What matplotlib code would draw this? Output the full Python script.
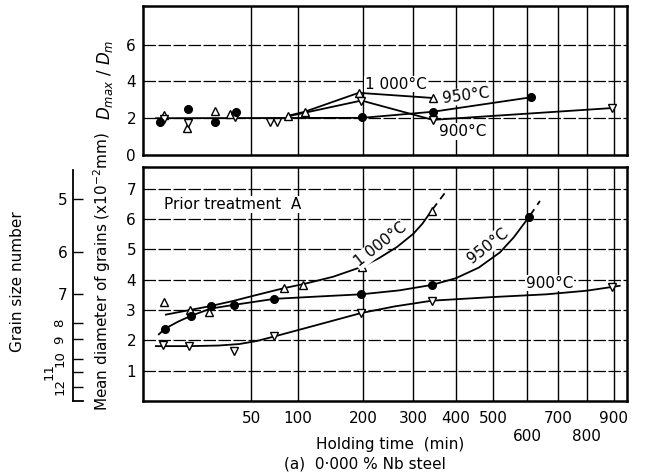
import numpy as np
import matplotlib
matplotlib.use('Agg')
import matplotlib.pyplot as plt

# holding time ticks (min), x axis is a square-root scale
xticks = [50, 100, 200, 300, 400, 500, 600, 700, 800, 900]
xlabels = ['50', '100', '200', '300', '400', '500', '\n600', '700', '\n800', '900']

# ---- top panel: Dmax / Dm ----
top_up_t = [2.45, 9.0, 23, 32.8, 88, 109, 192, 344]
top_up_y = [2.17, 1.45, 2.4, 2.22, 2.13, 2.35, 3.38, 3.1]
top_down_t = [2.45, 9.4, 36.5, 68, 76, 197, 344, 891]
top_down_y = [1.95, 1.75, 2.04, 1.8, 1.8, 2.96, 1.91, 2.55]
top_dot_t = [1.67, 9.6, 22.6, 37.3, 198, 344, 614]
top_dot_y = [1.82, 2.5, 1.82, 2.32, 2.04, 2.35, 3.14]

top_1000_t = [88, 109, 192, 344]
top_1000_y = [2.13, 2.35, 3.38, 3.1]
top_950_t = [1.1, 198, 344, 614]
top_950_y = [2.0, 2.02, 2.35, 3.14]
top_900_t = [88, 197, 344, 891]
top_900_y = [2.1, 2.96, 1.91, 2.55]

# ---- bottom panel: mean diameter (x10^-2 mm) ----
up_t = [2.45, 10.2, 19.5, 83.2, 107, 198, 341]
up_y = [3.28, 3.0, 2.92, 3.72, 3.83, 4.43, 6.28]
dot_t = [2.65, 10.6, 20.4, 35.4, 72.8, 196.5, 342, 607]
dot_y = [2.39, 2.81, 3.13, 3.17, 3.37, 3.52, 3.83, 6.08]
down_t = [2.25, 9.9, 35.4, 72.8, 195.6, 342, 891]
down_y = [1.84, 1.81, 1.65, 2.13, 2.9, 3.31, 3.76]

# hand drawn curves
c1000_t = [2.8, 10, 20, 35, 55, 83, 108, 150, 198, 230, 265, 300, 320, 341]
c1000_y = [2.85, 3.0, 3.13, 3.3, 3.5, 3.72, 3.86, 4.1, 4.43, 4.72, 5.08, 5.52, 5.85, 6.28]
e1000_t = [341, 372]
e1000_y = [6.28, 6.85]
c950_t = [1.5, 2.65, 6, 10.6, 20.4, 35.4, 72.8, 130, 196.5, 270, 342, 400, 460, 519, 560, 607]
c950_y = [2.2, 2.39, 2.62, 2.81, 3.05, 3.17, 3.37, 3.45, 3.52, 3.65, 3.83, 4.05, 4.4,
          4.9, 5.4, 6.08]
e950_t = [607, 641]
e950_y = [6.08, 6.6]
c900_t = [1.08, 2.25, 9.9, 25, 40, 55, 72.8, 120, 196, 260, 342, 500, 663, 800, 891]
c900_y = [1.81, 1.81, 1.81, 1.83, 1.88, 1.98, 2.13, 2.47, 2.9, 3.12, 3.31, 3.43, 3.52, 3.64, 3.76]
e900_t = [891, 935]
e900_y = [3.76, 3.82]

# grain size number scale (position on the mean diameter axis)
grain_no = ['5', '6', '7', '8', '9', '10', '11', '12']
grain_pos = [6.65, 4.9, 3.53, 2.58, 2.03, 1.39, 0.97, 0.47]

W, H = 648, 475
fig = plt.figure(figsize=(W / 100, H / 100), dpi=100)
ax1 = fig.add_axes([143 / W, 1 - 155 / H, 484 / W, 149 / H])
ax2 = fig.add_axes([143 / W, 1 - 401 / H, 484 / W, 234 / H])


def fwd(x):
    return np.sqrt(np.clip(x, 0, None))


def inv(x):
    return np.square(x)


for ax in (ax1, ax2):
    ax.set_xscale('function', functions=(fwd, inv))
    ax.set_xlim(0.05, 950)
    ax.set_xticks(xticks)
    ax.tick_params(length=0, labelsize=11, pad=5)
    for s in ax.spines.values():
        s.set_linewidth(1.8)
    for t in xticks:
        ax.axvline(t, color='k', lw=1.0, zorder=1)

ax1.set_ylim(0, 8.1)
ax1.set_yticks([0, 2, 4, 6])
ax1.set_xticklabels([])
for v in [2, 4, 6]:
    ax1.axhline(v, color='k', lw=0.9, dashes=(10, 2), zorder=1)

ax2.set_ylim(0, 7.72)
ax2.set_yticks([1, 2, 3, 4, 5, 6, 7])
ax2.set_xticklabels(xlabels, linespacing=1.25)
ax2.tick_params(axis='x', pad=7)
for v in range(1, 8):
    ax2.axhline(v, color='k', lw=0.9, dashes=(10, 2), zorder=1)

mk_up = dict(marker='^', ms=6, mfc='white', mec='k', mew=1.0, ls='none', zorder=4)
mk_dn = dict(marker='v', ms=6, mfc='white', mec='k', mew=1.0, ls='none', zorder=4)
mk_dot = dict(marker='o', ms=5.5, mfc='k', mec='k', ls='none', zorder=4)
white = dict(facecolor='white', edgecolor='none', pad=0.5)

# top panel
ax1.plot(top_950_t, top_950_y, 'k-', lw=1.3, zorder=3)
ax1.plot(top_1000_t, top_1000_y, 'k-', lw=1.3, zorder=3)
ax1.plot(top_900_t, top_900_y, 'k-', lw=1.3, zorder=3)
ax1.plot(top_up_t, top_up_y, **mk_up)
ax1.plot(top_down_t, top_down_y, **mk_dn)
ax1.plot(top_dot_t, top_dot_y, **mk_dot)
ax1.text(262, 3.85, '1 000°C', fontsize=11, ha='center', va='center', bbox=white, zorder=5)
ax1.text(426, 3.21, '950°C', fontsize=11, ha='center', va='center', rotation=7,
         bbox=white, zorder=5)
ax1.text(418, 1.29, '900°C', fontsize=11, ha='center', va='center', bbox=white, zorder=5)

# bottom panel
for ct, cy, et, ey in [(c1000_t, c1000_y, e1000_t, e1000_y),
                       (c950_t, c950_y, e950_t, e950_y),
                       (c900_t, c900_y, e900_t, e900_y)]:
    ax2.plot(ct, cy, 'k-', lw=1.3, zorder=3)
    ax2.plot(et, ey, 'k--', lw=1.3, dashes=(5, 3), zorder=3)
ax2.plot(up_t, up_y, **mk_up)
ax2.plot(down_t, down_y, **mk_dn)
ax2.plot(dot_t, dot_y, **mk_dot)
ax2.text(2.45, 6.48, 'Prior treatment  A', fontsize=11, ha='left', va='center',
         bbox=white, zorder=5)
ax2.text(232, 5.15, '1 000°C', fontsize=11, ha='center', va='center', rotation=38,
         rotation_mode='anchor', bbox=white, zorder=5)
ax2.text(485, 5.13, '950°C', fontsize=11, ha='center', va='center', rotation=38,
         rotation_mode='anchor', bbox=white, zorder=5)
ax2.text(673, 3.89, '900°C', fontsize=11, ha='center', va='center', bbox=white, zorder=5)

# grain size number axis
ax3 = fig.add_axes([73 / W, 1 - 401 / H, 10 / W, 234 / H])
ax3.set_ylim(ax2.get_ylim())
ax3.patch.set_visible(False)
for k in ['top', 'right', 'bottom']:
    ax3.spines[k].set_visible(False)
ax3.spines['left'].set_linewidth(1.3)
ax3.spines['left'].set_bounds(0, 7.62)
ax3.set_xticks([])
ax3.set_yticks(grain_pos)
ax3.set_yticklabels(grain_no[:3] + [''] * 5)
ax3.tick_params(axis='y', direction='in', length=7, width=1.0, labelsize=11, pad=4)
ax3.plot([0, 1], [0, 0], 'k-', lw=1.3, transform=ax3.get_yaxis_transform(), clip_on=False)
# the crowded small numbers are written sideways
side_x = [-13, -13, -13, -24, -13]
for lab, pos, dx in zip(grain_no[3:], grain_pos[3:], side_x):
    ax3.annotate(lab, xy=(0, pos), xycoords=('axes fraction', 'data'),
                 xytext=(dx, 0), textcoords='offset pixels', fontsize=9.5,
                 rotation=90, ha='center', va='center')

# axis titles
fig.text(105 / W, 1 - 80 / H, r'$D_{max}\ /\ D_m$', fontsize=12, rotation=90,
         ha='center', va='center')
fig.text(102 / W, 1 - 272 / H, r'Mean diameter of grains (x10$^{-2}$mm)', fontsize=11,
         rotation=90, ha='center', va='center')
fig.text(18 / W, 1 - 282 / H, 'Grain size number', fontsize=11, rotation=90,
         ha='center', va='center')
fig.text(390 / W, 1 - 445 / H, 'Holding time  (min)', fontsize=11, ha='center', va='center')
fig.text(365 / W, 1 - 464 / H, '(a)  0·000 % Nb steel', fontsize=11, ha='center', va='center')

fig.savefig('out.png', dpi=100)
